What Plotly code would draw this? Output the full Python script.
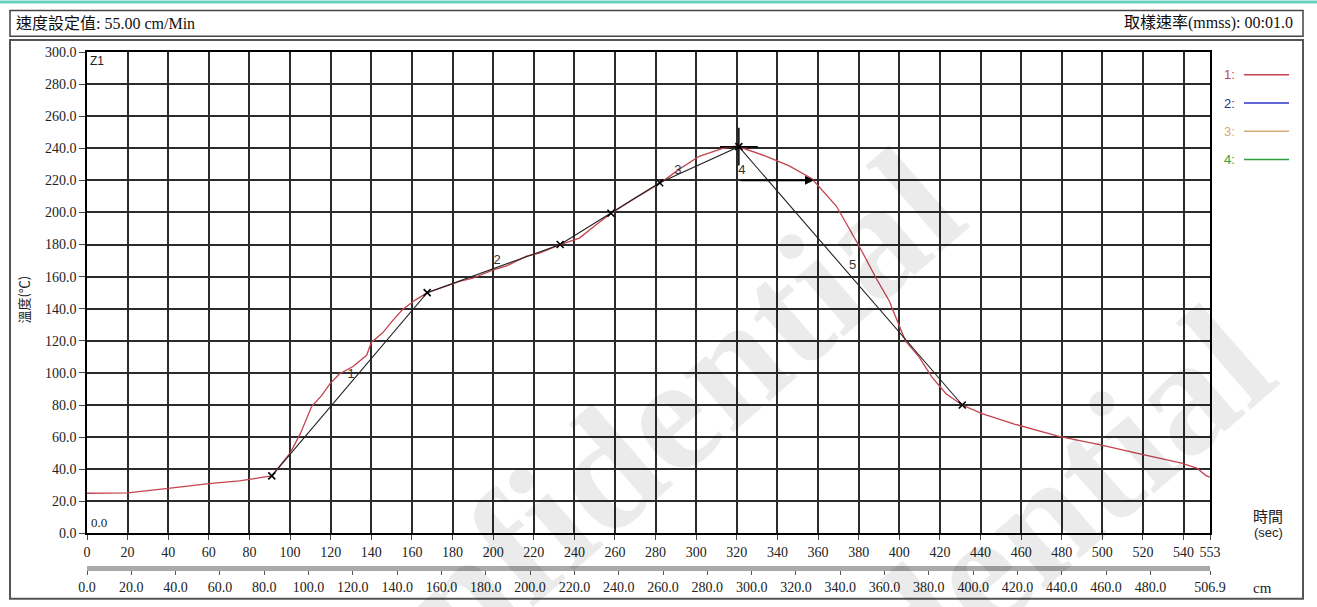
import plotly.graph_objects as go

# ---------------- data ----------------
time_s = [0, 20, 40, 60, 75, 91, 100, 105, 110.6, 115.6, 119.5, 124.4, 131, 137.7, 140, 145.6,
          150.5, 155.4, 162, 167.7, 183.5, 190, 199.7, 206.6, 216.4, 222.8, 233, 242.5, 251.3,
          258, 269.5, 282, 291.7, 301.5, 313, 320, 334.5, 345.8, 357, 369, 380, 388.6, 395,
          400, 403, 409.7, 416, 423, 431, 440.7, 457, 478.6, 498, 519, 539, 546.5, 551, 553]
temp_c = [25, 25.3, 28, 31, 32.7, 35.8, 50, 62, 79, 86, 93, 99.5, 104, 111, 119, 125,
          132.6, 139.5, 145.7, 150, 157, 159, 164, 166.7, 172.8, 174.7, 180, 184, 193,
          199.4, 208.6, 218, 227, 235, 240, 241.4, 235, 229, 221, 204, 179.6, 159, 145,
          130, 120, 110, 97.5, 87, 80, 74.7, 68, 60.5, 55.5, 49.4, 43.8, 40.7, 36, 35]

seg_t = [91, 167.5, 233, 258, 282, 321, 431]
seg_c = [35.8, 150, 180, 199.5, 218.5, 241, 80]
seg_labels = ["1", "2", "3", "4", "5"]
seg_label_t = [130, 202, 291, 322.5, 377]
seg_label_c = [99, 170, 226, 226, 167]

peak_t, peak_c = 321, 241
arrow_from_t, arrow_to_t, arrow_c = 321, 358, 220

x_ticks = list(range(0, 541, 20)) + [553]
y_ticks = list(range(0, 301, 20))
cm_ticks = [float(v) for v in range(0, 481, 20)] + [506.9]

legend_names = ["1:", "2:", "3:", "4:"]
legend_colors = ["#c4434f", "#2a34c8", "#d9a877", "#2f9e3c"]
legend_text_colors = ["#c4434f", "#303090", "#d9a877", "#2f9e3c"]

# ---------------- layout helpers ----------------
W, H = 1317, 607
L, R, T, B = 87, 1210, 52, 578
PLOT_BOTTOM = 538


def px(xp):
    return (xp - L) / (R - L)


def py(yp):
    return (B - yp) / (B - T)


SERIF = "Liberation Serif, 'Noto Sans CJK TC', serif"
SANS = "Liberation Sans, Arial, sans-serif"
CJK = "'Noto Sans CJK TC', sans-serif"

fig = go.Figure()

# red curve
fig.add_trace(go.Scatter(x=time_s, y=temp_c, mode="lines",
                         line=dict(color=legend_colors[0], width=1.3),
                         hoverinfo="skip", showlegend=False))
# black segments
fig.add_trace(go.Scatter(x=seg_t, y=seg_c, mode="lines+markers",
                         line=dict(color="#222222", width=1.1),
                         marker=dict(symbol="x-thin", size=7, color="#000",
                                     line=dict(width=1.6, color="#000")),
                         hoverinfo="skip", showlegend=False))
# peak cross
fig.add_trace(go.Scatter(x=[peak_t], y=[peak_c], mode="markers",
                         marker=dict(symbol="cross-thin", size=27, color="#000",
                                     line=dict(width=1.5, color="#000")),
                         hoverinfo="skip", showlegend=False))
# segment labels
fig.add_trace(go.Scatter(x=seg_label_t, y=seg_label_c, mode="text", text=seg_labels,
                         textfont=dict(family=SANS, size=13, color="#333"),
                         hoverinfo="skip", showlegend=False))
# dummy trace for cm axis
fig.add_trace(go.Scatter(x=[0, 506.9], y=[-50, -50], xaxis="x2", yaxis="y", mode="lines",
                         line=dict(width=0), opacity=0, hoverinfo="skip", showlegend=False))

grid_color = "#2b2b2b"
fig.update_layout(
    width=W, height=H,
    margin=dict(l=L, r=W - R, t=T, b=H - B),
    paper_bgcolor="white", plot_bgcolor="white",
    xaxis=dict(range=[0, 553], tickmode="array", tickvals=x_ticks,
               ticktext=[str(v) for v in x_ticks],
               showgrid=True, gridcolor=grid_color, gridwidth=1.5,
               showline=True, linecolor="#000", linewidth=1.5, mirror=True,
               ticks="outside", ticklen=5, tickcolor="#444",
               tickfont=dict(family=SERIF, size=14, color="#222"),
               zeroline=False, fixedrange=True),
    yaxis=dict(range=[0, 300], domain=[py(PLOT_BOTTOM), 1], tickmode="array",
               tickvals=y_ticks, ticktext=[f"{v:.1f}" for v in y_ticks],
               showgrid=True, gridcolor=grid_color, gridwidth=1.5,
               showline=True, linecolor="#000", linewidth=1.5, mirror=True,
               ticks="outside", ticklen=6, tickcolor="#444",
               tickfont=dict(family=SERIF, size=14, color="#222"),
               zeroline=False, fixedrange=True),
    xaxis2=dict(range=[0, 506.9], overlaying="x", anchor="free", position=py(573),
                side="bottom", tickmode="array", tickvals=cm_ticks,
                ticktext=[f"{v:.1f}" for v in cm_ticks],
                showgrid=False, zeroline=False,
                showline=True, linecolor="#a9a9a9", linewidth=5,
                ticks="outside", ticklen=4, tickcolor="#555",
                tickfont=dict(family=SERIF, size=14, color="#222"), fixedrange=True),
    showlegend=False,
)

shapes = []
# teal top line
shapes.append(dict(type="line", xref="paper", yref="paper", x0=px(0), x1=px(W), y0=py(1.5), y1=py(1.5),
                   line=dict(color="#66d1bc", width=3)))
# header box
shapes.append(dict(type="rect", xref="paper", yref="paper", x0=px(10), x1=px(1303), y0=py(36), y1=py(10),
                   line=dict(color="#444", width=1.5)))
# main frame
shapes.append(dict(type="rect", xref="paper", yref="paper", x0=px(10), x1=px(1303), y0=py(604), y1=py(40),
                   line=dict(color="#555", width=2)))
# legend lines
for i, c in enumerate(legend_colors):
    yy = 75 + i * 28.5
    shapes.append(dict(type="line", xref="paper", yref="paper", x0=px(1244), x1=px(1289),
                       y0=py(yy), y1=py(yy), line=dict(color=c, width=1.5)))
fig.update_layout(shapes=shapes)

ann = []
# watermark
for cx, cy in [(604, 476), (914, 634)]:
    ann.append(dict(xref="paper", yref="paper", x=px(cx), y=py(cy), xanchor="center", yanchor="middle",
                    text="<b>Confidential</b>", showarrow=False, textangle=-41,
                    font=dict(family="Liberation Serif, serif", size=165, color="rgba(0,0,0,0.08)")))
# arrow
ann.append(dict(x=arrow_to_t, y=arrow_c, ax=arrow_from_t, ay=arrow_c, axref="x", ayref="y",
                xref="x", yref="y", text="", showarrow=True, arrowhead=2, arrowsize=1,
                arrowwidth=1.8, arrowcolor="#000"))
# header texts
ann.append(dict(xref="paper", yref="paper", x=px(14), y=py(23), xanchor="left", yanchor="middle",
                text="速度設定值: 55.00 cm/Min", showarrow=False,
                font=dict(family=SERIF, size=16, color="#111")))
ann.append(dict(xref="paper", yref="paper", x=px(1295), y=py(23), xanchor="right", yanchor="middle",
                text="取樣速率(mmss): 00:01.0", showarrow=False,
                font=dict(family=SERIF, size=16, color="#111")))
# legend texts
for i, (n, c) in enumerate(zip(legend_names, legend_text_colors)):
    yy = 75 + i * 28.5
    ann.append(dict(xref="paper", yref="paper", x=px(1222), y=py(yy), xanchor="left", yanchor="middle",
                    text=n, showarrow=False, font=dict(family=SANS, size=13, color=c)))
# inner labels
ann.append(dict(xref="x", yref="y", x=0.5, y=300, xanchor="left", yanchor="top", text="Z1",
                showarrow=False, font=dict(family=SANS, size=12, color="#222")))
ann.append(dict(xref="x", yref="y", x=1, y=1, xanchor="left", yanchor="bottom", text="0.0",
                showarrow=False, font=dict(family=SERIF, size=13, color="#222")))
# axis titles
ann.append(dict(xref="paper", yref="paper", x=px(24), y=py(302), xanchor="center", yanchor="middle",
                text="溫度(℃)", textangle=-90,
                showarrow=False, font=dict(family=CJK, size=13, color="#222")))
ann.append(dict(xref="paper", yref="paper", x=px(1268), y=py(520), xanchor="center", yanchor="middle",
                text="時間", showarrow=False, font=dict(family=CJK, size=15, color="#222")))
ann.append(dict(xref="paper", yref="paper", x=px(1268), y=py(537), xanchor="center", yanchor="middle",
                text="(sec)", showarrow=False, font=dict(family=SANS, size=13, color="#222")))
ann.append(dict(xref="paper", yref="paper", x=px(1262), y=py(593), xanchor="center", yanchor="middle",
                text="cm", showarrow=False, font=dict(family=SERIF, size=15, color="#222")))
fig.update_layout(annotations=ann)

fig.write_html("out.html", config={"displayModeBar": False},
               post_script="document.body.style.margin='0px';")
